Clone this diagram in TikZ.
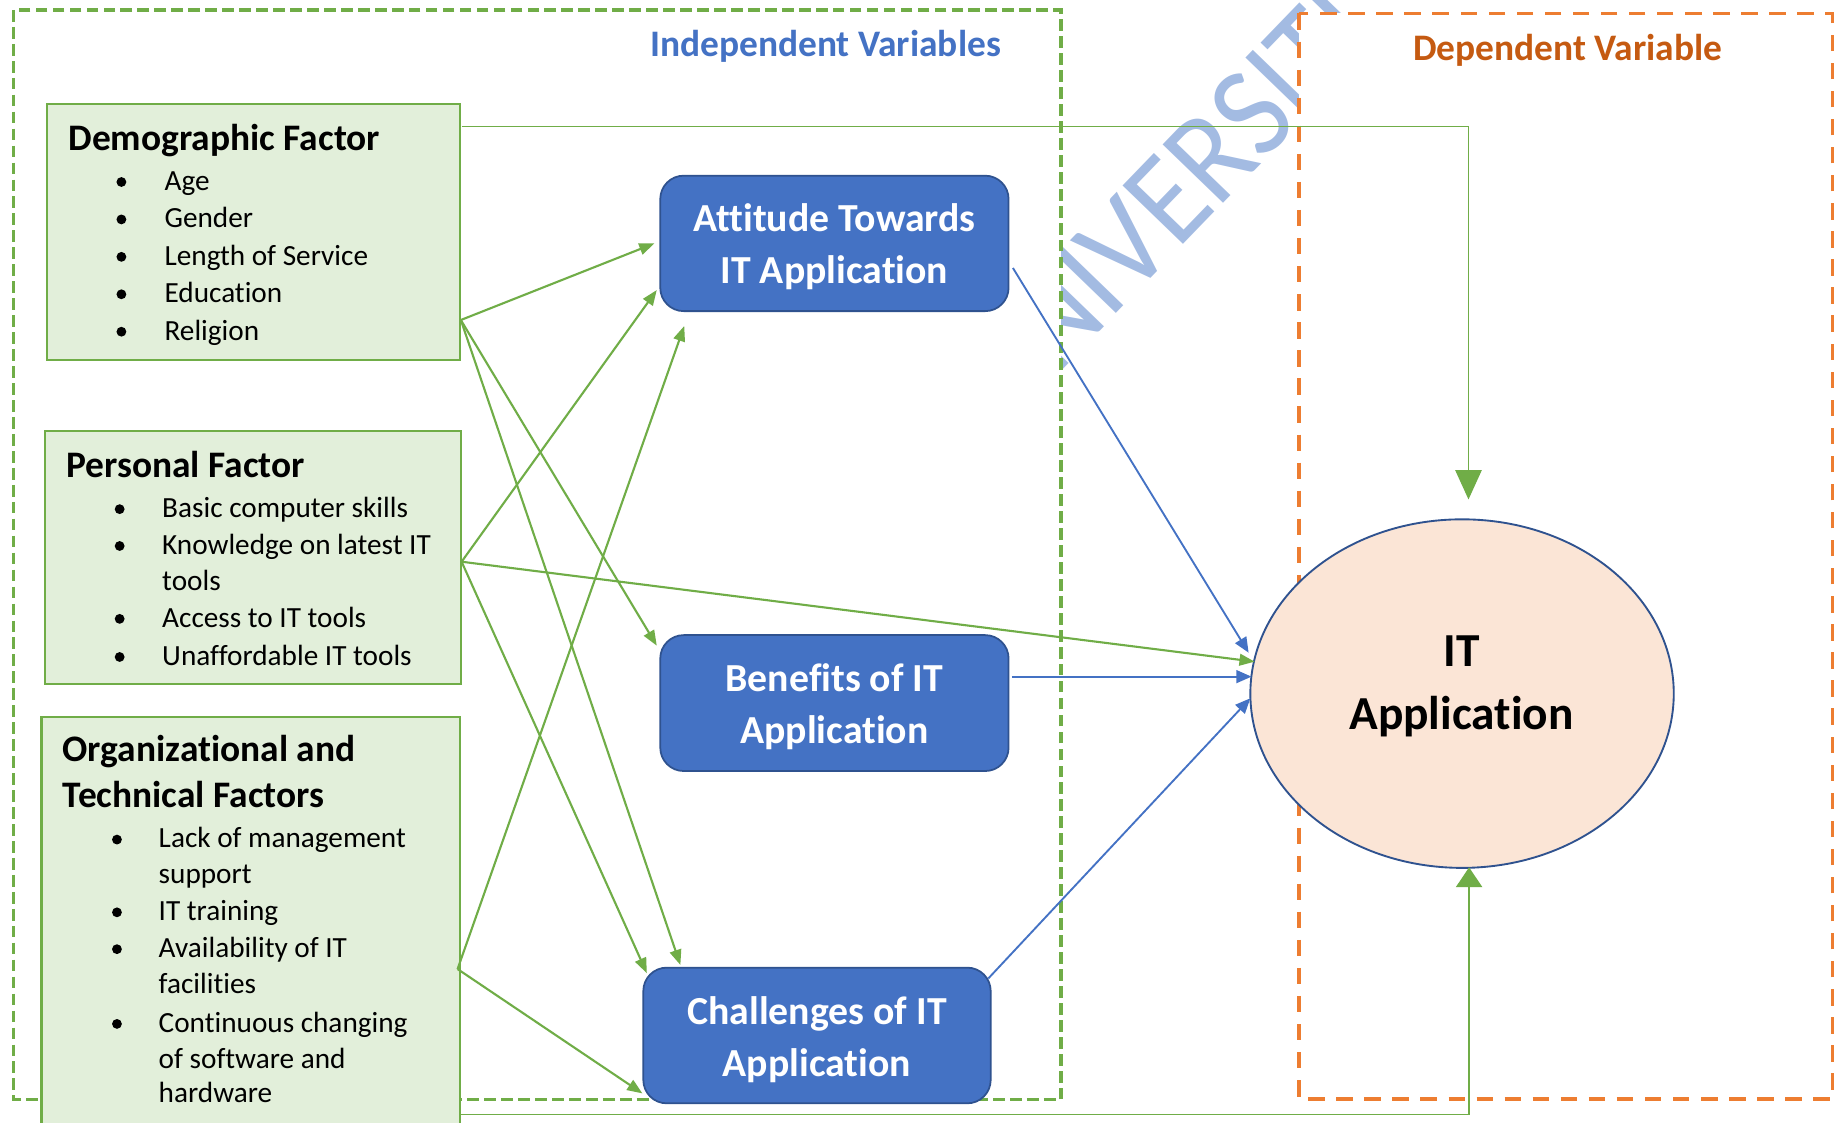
\documentclass[tikz,border=0pt]{standalone}
\usepackage{graphicx}
\usepackage{fontspec}
\setmainfont{Carlito}[Ligatures=NoCommon]
\usetikzlibrary{arrows.meta,calc,shapes.geometric}

\definecolor{lineG}{RGB}{112,173,71}
\definecolor{fillG}{RGB}{226,239,218}
\definecolor{boxB}{RGB}{68,114,196}
\definecolor{edgeB}{RGB}{47,82,143}
\definecolor{dashO}{RGB}{237,125,49}
\definecolor{textO}{RGB}{197,90,17}
\definecolor{fillO}{RGB}{251,229,214}
\definecolor{markB}{RGB}{163,187,226}

\begin{document}
\begin{tikzpicture}[x=1pt,y=-1pt,
  factor/.style={draw=lineG, line width=1.8pt, fill=fillG, inner sep=0pt, outer sep=0pt},
  construct/.style={draw=edgeB, line width=1.5pt, fill=boxB, rounded corners=20pt, inner sep=0pt, outer sep=0pt},
  ftitle/.style={font=\fontsize{32}{38}\selectfont\bfseries, anchor=base west, inner sep=0pt},
  fitem/.style={font=\fontsize{25}{30}\selectfont, anchor=base west, inner sep=0pt},
  dot/.style={circle, fill=black, inner sep=0pt, minimum size=8.4pt},
  ctext/.style={font=\fontsize{34}{40}\selectfont\bfseries, text=white, anchor=base, inner sep=0pt},
  otext/.style={font=\fontsize{40.5}{48}\selectfont\bfseries, anchor=base, inner sep=0pt},
  header/.style={font=\fontsize{32}{38}\selectfont\bfseries, anchor=base west, inner sep=0pt},
  wmark/.style={font=\fontsize{112}{112}\selectfont, text=markB, rotate=46, anchor=base, inner sep=0pt},
  garrow/.style={draw=lineG, line width=1.8pt, -{Triangle[length=13pt,width=10pt]}},
  barrow/.style={draw=boxB, line width=1.6pt, -{Triangle[length=13pt,width=11pt]}},
  gloop/.style={draw=lineG, line width=1.1pt},
]
\useasboundingbox (0,0) rectangle (1568,960);
\clip (0,0) rectangle (1568,960);

% faint watermark lettering, set letter by letter along a 46 degree baseline
\foreach \i/\s/\ch in {1/-45.3/N, 2/0/I, 3/42/V, 4/95.8/E, 5/147.9/R, 6/198.5/S, 7/234.4/I, 8/271.7/T, 9/309/I} {
  \node[wmark] (mark\i) at ({957.6+0.6947*\s},{265-0.7193*\s}) {\scalebox{0.92}[1]{\ch}};
}

% variable group frames (white inside)
\draw[lineG, line width=3pt, dash pattern=on 10pt off 4.5pt, fill=white] (11.5,8.5) rectangle (907,940);
\draw[dashO, line width=3pt, dash pattern=on 14pt off 10pt, fill=white] (1110.5,11.5) rectangle (1566.5,939.6);

\node[header, text=boxB] (hIndep) at (555.7,47.9) {Independent Variables};
\node[header, text=textO] (hDep) at (1208,51.3) {Dependent Variable};

% dependent construct
\node[draw=edgeB, line width=1.6pt, fill=fillO, ellipse, minimum width=362pt, minimum height=298pt, inner sep=0pt, outer sep=0pt] (it) at (1250,593) {};
\node[otext] (itL1) at (1249.5,570) {IT};
\node[otext] (itL2) at (1249.5,624.1) {Application};

% factor boxes
\node[factor, minimum width=353pt, minimum height=219pt] (demo) at (216.6,198.35) {};
\node[factor, minimum width=356pt, minimum height=216.3pt] (pers) at (216.25,476.95) {};
\node[factor, minimum width=357.6pt, minimum height=362.3pt] (org) at (214.3,793.85) {};

\node[ftitle] (demoTitle) at (58.4,128.8) {Demographic Factor};
\foreach \i/\yb/\txt in {1/162.8/Age, 2/194.8/Gender, 3/226.8/Length of Service, 4/258.8/Education, 5/290.8/Religion} {
  \node[dot] (demoDot\i) at (103.8,\yb-7.2) {};
  \node[fitem] (demoItem\i) at (140.5,\yb) {\txt};
}

\node[ftitle] (persTitle) at (56.5,408.2) {Personal Factor};
\foreach \i/\yb in {1/442.5, 2/474, 4/536.3, 5/568.9} {
  \node[dot] (persDot\i) at (102.3,\yb-7.2) {};
}
\foreach \i/\yb/\txt in {1/442.5/Basic computer skills, 2/474/Knowledge on latest IT, 3/504.7/tools, 4/536.3/Access to IT tools, 5/568.9/Unaffordable IT tools} {
  \node[fitem] (persItem\i) at (138.5,\yb) {\txt};
}

\node[ftitle] (orgTitleA) at (53.4,651.3) {Organizational and};
\node[ftitle] (orgTitleB) at (53.4,690.7) {Technical Factors};
\foreach \i/\yb in {1/725, 3/787.2, 4/818.7, 6/882.6} {
  \node[dot] (orgDot\i) at (100,\yb-7.2) {};
}
\foreach \i/\yb/\txt in {1/725/Lack of management, 2/755.7/support, 3/787.2/IT training, 4/818.7/Availability of IT, 5/849.5/facilities, 6/882.6/Continuous changing, 7/913.3/of software and, 8/942.9/hardware} {
  \node[fitem] (orgItem\i) at (135.5,\yb) {\txt};
}

% mediating constructs
\node[construct, minimum width=297.8pt, minimum height=115.8pt] (att) at (713.4,208.1) {};
\node[ctext] (attL1) at (713.4,198) {Attitude Towards};
\node[ctext] (attL2) at (713.4,242.2) {IT Application};

\node[construct, minimum width=297.8pt, minimum height=116.2pt] (ben) at (713.4,601.1) {};
\node[ctext] (benL1) at (713.4,591.4) {Benefits of IT};
\node[ctext] (benL2) at (713.4,635.5) {Application};

\node[construct, minimum width=297pt, minimum height=116pt] (chal) at (698.5,885.3) {};
\node[ctext] (chalL1) at (698.5,875.5) {Challenges of IT};
\node[ctext] (chalL2) at (698.5,920.5) {Application};

% ports
\coordinate (dOut) at ($(demo.east)+(0.9,75.25)$);
\coordinate (pOut) at ($(pers.east)+(0.4,3.3)$);
\coordinate (oOut) at ($(org.north east)+(-1.9,215.8)$);

% factor -> construct links
\draw[garrow] (dOut) -- ($(att.west)+(-5,0)$);
\draw[garrow] (dOut) -- ($(ben.north west)+(-3,9)$);
\draw[garrow] (dOut) -- ($(chal.north west)+(31.7,-2.3)$);
\draw[garrow] (pOut) -- ($(att.south west)+(-3,-18)$);
\draw[garrow] (pOut) -- ($(chal.north west)+(3,4.7)$);
\draw[garrow] (pOut) -- ($(it.west)+(3.7,-27.3)$);
\draw[garrow] (oOut) -- ($(att.south west)+(20.5,12.7)$);
\draw[garrow] (oOut) -- ($(chal.south west)+(-0.8,-8.5)$);

% construct -> outcome links
\draw[barrow] ($(att.east)+(3.7,21)$) -- ($(it.west)+(-1.5,-35)$);
\draw[barrow] ($(ben.east)+(2.7,-22.6)$) -- ($(it.west)+(1,-14.5)$);
\draw[barrow] ($(chal.north east)+(-2,9.2)$) -- ($(it.west)+(0,4)$);

% direct links running round the frames
\coordinate (dTop) at ($(demo.north east)+(1.5,19.1)$);
\coordinate (itTop) at ($(it.north)+(5.5,-17)$);
\draw[gloop, -{Triangle[length=25pt,width=22.5pt]}] (dTop) -| (itTop);
\coordinate (oBot) at ($(org.north east)+(0,340.3)$);
\coordinate (itBot) at ($(it.south)+(6,-0.5)$);
\draw[gloop, -{Triangle[length=17pt,width=22.5pt]}] (oBot) -| (itBot);
\end{tikzpicture}
\end{document}
